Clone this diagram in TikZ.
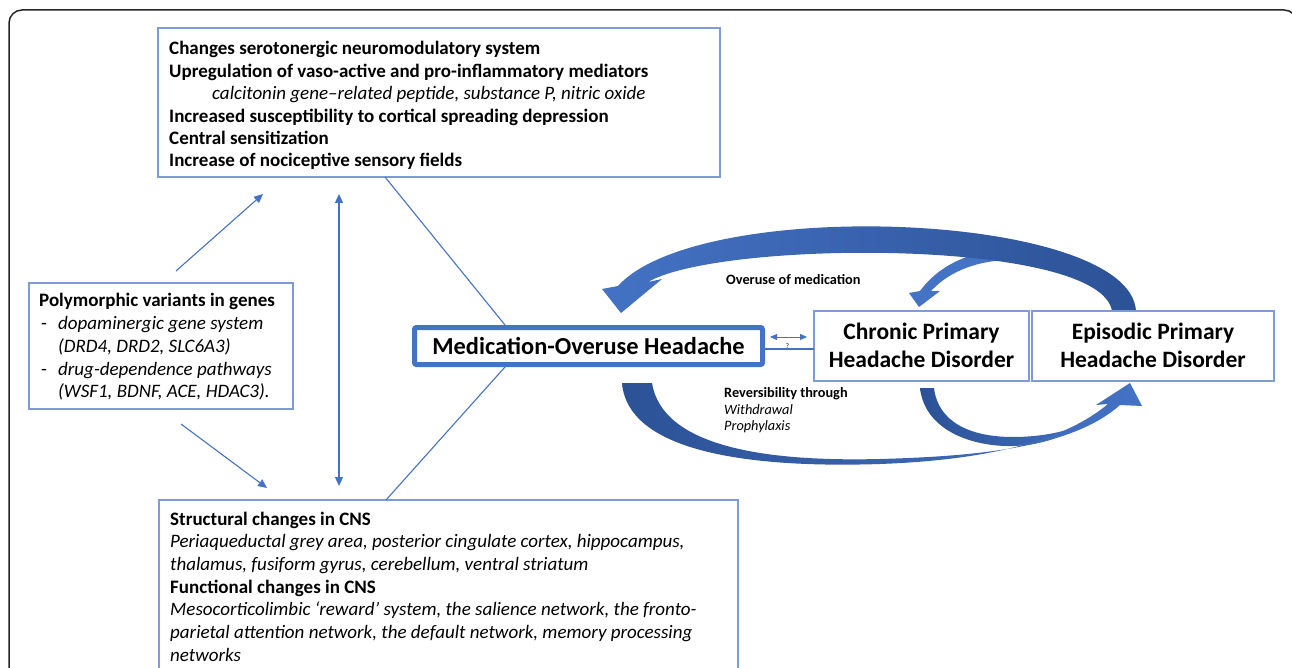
\documentclass[tikz,border=0pt]{standalone}
\usepackage{fontspec}
\setmainfont{Carlito}
\usetikzlibrary{arrows.meta,calc}
\definecolor{mblue}{RGB}{68,114,196}
\definecolor{dblue}{RGB}{44,82,150}
\definecolor{boxc}{RGB}{125,155,212}
\begin{document}
\begin{tikzpicture}[x=1pt,y=-1pt,
  lbox/.style={draw=boxc, line width=1.3pt, inner sep=0pt, outer sep=0pt, anchor=north west},
  tb/.style={anchor=base west, inner sep=0pt, font=\fontsize{19}{22}\selectfont\bfseries},
  ti/.style={anchor=base west, inner sep=0pt, font=\fontsize{19}{22}\selectfont\itshape},
  tr/.style={anchor=base west, inner sep=0pt, font=\fontsize{19}{22}\selectfont},
  sb/.style={anchor=base west, inner sep=0pt, font=\fontsize{14.3}{16.5}\selectfont\bfseries},
  si/.style={anchor=base west, inner sep=0pt, font=\fontsize{14.3}{16.5}\selectfont\itshape},
  big/.style={anchor=base, inner sep=0pt, font=\fontsize{23.5}{28}\selectfont\bfseries},
  conn/.style={draw=mblue, line width=1.1pt},
  arr/.style={conn, -{Triangle[length=9pt,width=8pt]}},
  darr/.style={conn, {Triangle[length=9pt,width=8pt]}-{Triangle[length=9pt,width=8pt]}},
  sdarr/.style={conn, line width=0.9pt, {Triangle[length=7pt,width=6pt]}-{Triangle[length=7pt,width=6pt]}}
]
\useasboundingbox (0,0) rectangle (1292,668);
\clip (0,0) rectangle (1292,668);
\fill[white] (0,0) rectangle (1292,668);
% outer frame
\draw[line width=1.5pt, rounded corners=13pt, draw=black!85] (9,10) rectangle (1297,700);

% ---------- block arrows ----------
% small arc to chronic
\fill[mblue] (920,291) .. controls (950,250) and (1010,240) .. (1070,255)
  -- (1070,268) .. controls (1010,252) and (960,260) .. (931,291)
  -- (940,291) -- (919,307) -- (909,293) -- cycle;
% big arc: overuse of medication
\path[left color=mblue, right color=dblue]
  (1136,311) .. controls (1130,212) and (700,195) .. (618,286)
  -- (602,289) -- (621,313) -- (662,279) -- (648,282)
  .. controls (720,240) and (1100,238) .. (1112,311) -- cycle;
% chronic -> episodic (bottom)
\path[left color=dblue, right color=mblue]
  (920,388) .. controls (925,432) and (975,447) .. (1013,446)
  .. controls (1050,445) and (1080,430) .. (1104,408)
  -- (1116,408) .. controls (1085,428) and (1050,437) .. (1013,437)
  .. controls (970,437) and (938,422) .. (934,388) -- cycle;
% MOH -> episodic (reversibility)
\path[left color=dblue, right color=mblue]
  (622,383) .. controls (628,455) and (760,468) .. (880,464)
  .. controls (990,460) and (1065,440) .. (1108,404)
  -- (1096,405) -- (1130,383) -- (1142,406) -- (1120,405)
  .. controls (1075,445) and (990,456) .. (880,459)
  .. controls (760,462) and (662,445) .. (652,383) -- cycle;

% ---------- boxes ----------
\node[lbox, minimum width=562pt, minimum height=149pt] (topbox) at (158,28) {};
\node[lbox, minimum width=264pt, minimum height=126pt] (leftbox) at (29,283) {};
\node[lbox, minimum width=579pt, minimum height=200pt] (botbox) at (159,500) {};
\node[lbox, minimum width=215pt, minimum height=70pt] (chronic) at (814,311) {};
\node[lbox, minimum width=242pt, minimum height=70pt] (episodic) at (1032,311) {};
\node[draw=mblue, line width=5pt, rounded corners=2pt, minimum width=348pt, minimum height=37pt,
  inner sep=0pt, font=\fontsize{24.4}{28}\selectfont\bfseries] (moh) at (588.5,346) {Medication-Overuse Headache};

% ---------- texts ----------
\node[tb] (t1) at (169,55) {Changes serotonergic neuromodulatory system};
\node[tb] (t2) at (169,77.4) {Upregulation of vaso-active and pro-inflammatory mediators};
\node[ti] (t3) at (212,99.8) {calcitonin gene–related peptide, substance P, nitric oxide};
\node[tb] (t4) at (169,122.2) {Increased susceptibility to cortical spreading depression};
\node[tb] (t5) at (169,144.6) {Central sensitization};
\node[tb] (t6) at (169,167) {Increase of nociceptive sensory fields};

\node[tb] (p1) at (39,306) {Polymorphic variants in genes};
\node[tr] (p2d) at (41,329) {-};
\node[ti] (p2) at (58,329) {dopaminergic gene system};
\node[ti] (p3) at (58,352) {(DRD4, DRD2, SLC6A3)};
\node[tr] (p4d) at (41,375) {-};
\node[ti] (p4) at (58,375) {drug-dependence pathways};
\node[ti] (p5) at (58,397) {(WSF1, BDNF, ACE, HDAC3).};

\node[tb] (b1) at (170,525) {Structural changes in CNS};
\node[ti] (b2) at (170,547.7) {Periaqueductal grey area, posterior cingulate cortex, hippocampus,};
\node[ti] (b3) at (170,570.4) {thalamus, fusiform gyrus, cerebellum, ventral striatum};
\node[tb] (b4) at (170,593) {Functional changes in CNS};
\node[ti] (b5) at (170,615.8) {Mesocorticolimbic ‘reward’ system, the salience network, the fronto-};
\node[ti] (b6) at (170,638.5) {parietal attention network, the default network, memory processing};
\node[ti] (b7) at (170,661.2) {networks};

\node[big] (c1) at (921.5,339) {Chronic Primary};
\node[big] (c2) at (921.5,367) {Headache Disorder};
\node[big] (e1) at (1153,339) {Episodic Primary};
\node[big] (e2) at (1153,367) {Headache Disorder};

\node[sb] (ov) at (726,284) {Overuse of medication};
\node[sb] (rv1) at (724,397) {Reversibility through};
\node[si] (rv2) at (724,414) {Withdrawal};
\node[si] (rv3) at (724,430) {Prophylaxis};
\node[inner sep=0pt, font=\fontsize{7}{8}\selectfont] (q) at (787.5,346) {?};

% ---------- connectors ----------
\draw[conn] ($(topbox.south west)+(227,0)$) -- ($(moh.north west)+(93,0)$);
\draw[conn] ($(moh.south west)+(93,0)$) -- ($(botbox.north west)+(227,0)$);
\draw[conn] ($(moh.east)+(0,3)$) -- ($(chronic.west)+(0,3)$);
\draw[sdarr] ($(moh.east)+(5,-9)$) -- ($(chronic.west)+(-7,-9)$);

\coordinate (g1s) at (176,271);
\coordinate (g1t) at (263,194);
\coordinate (g2s) at (181,424);
\coordinate (g2t) at (267,488);
\coordinate (v1) at (339,194);
\coordinate (v2) at (339,486);
\draw[arr] (g1s) -- (g1t);
\draw[arr] (g2s) -- (g2t);
\draw[darr] (v1) -- (v2);
\end{tikzpicture}
\end{document}
